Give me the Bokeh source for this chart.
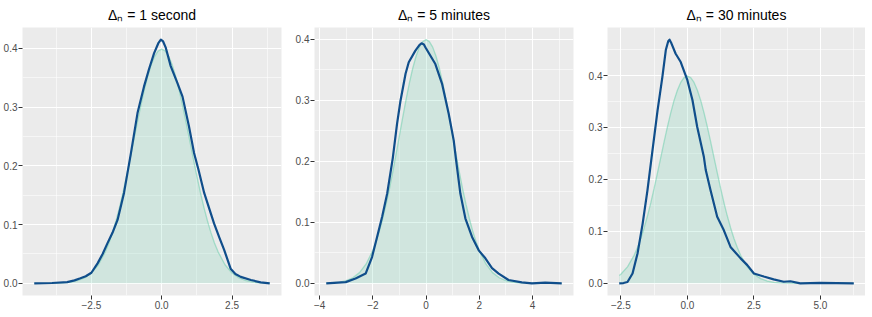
from bokeh.plotting import figure
from bokeh.layouts import row
from bokeh.models import FixedTicker, Range1d, CustomJSTickFormatter
from bokeh.embed import file_html
from bokeh.resources import INLINE

# ---------------- data ----------------
titles = ["Δₙ = 1 second", "Δₙ = 5 minutes", "Δₙ = 30 minutes"]

# standard normal reference density (green area), core part shared by panels
g_core_x = [-2.0, -1.875, -1.75, -1.625, -1.5, -1.375, -1.25, -1.125, -1.0, -0.875,
            -0.75, -0.625, -0.5, -0.375, -0.25, -0.125, 0.0, 0.125, 0.25, 0.375,
            0.5, 0.625, 0.75, 0.875, 1.0, 1.125, 1.25, 1.375, 1.5, 1.625,
            1.75, 1.875, 2.0]
g_core_y = [0.0540, 0.0688, 0.0863, 0.1066, 0.1295, 0.1548, 0.1826, 0.2121, 0.2420, 0.2721,
            0.3011, 0.3282, 0.3521, 0.3718, 0.3867, 0.3958, 0.3989, 0.3958, 0.3867, 0.3718,
            0.3521, 0.3282, 0.3011, 0.2721, 0.2420, 0.2121, 0.1826, 0.1548, 0.1295, 0.1066,
            0.0863, 0.0688, 0.0540]

# panel 1 : 1 second
p1_green_left_x = [-4.53, -4.25, -4.0, -3.75, -3.5, -3.25, -3.0, -2.75, -2.5, -2.25]
p1_green_left_y = [0.0000, 0.0000, 0.0001, 0.0004, 0.0009, 0.0020, 0.0044, 0.0091, 0.0175, 0.0317]
p1_green_right_x = [2.25, 2.5, 2.75, 3.0, 3.25, 3.5, 3.75, 3.84]
p1_green_right_y = [0.0317, 0.0175, 0.0091, 0.0044, 0.0020, 0.0009, 0.0004, 0.0003]
p1_blue_x = [-4.53, -3.9, -3.36, -3.1, -2.89, -2.7, -2.5, -2.28, -2.1, -1.93,
             -1.75, -1.57, -1.34, -1.1, -0.86, -0.63, -0.45, -0.27, -0.12, -0.03,
             0.05, 0.14, 0.32, 0.56, 0.74, 0.97, 1.15, 1.31, 1.51, 1.86,
             2.05, 2.22, 2.45, 2.62, 2.81, 3.17, 3.52, 3.84]
p1_blue_y = [0.0, 0.0005, 0.002, 0.005, 0.0085, 0.012, 0.018, 0.034, 0.05, 0.068,
             0.086, 0.108, 0.154, 0.22, 0.29, 0.335, 0.365, 0.392, 0.409, 0.415,
             0.412, 0.402, 0.37, 0.341, 0.318, 0.267, 0.222, 0.193, 0.154, 0.102,
             0.078, 0.057, 0.025, 0.016, 0.011, 0.0056, 0.0017, 0.0]
p1_xticks = [-2.5, 0.0, 2.5]
p1_xlabels = ["−2.5", "0.0", "2.5"]
p1_xminor = [-3.75, -1.25, 1.25, 3.75]

# panel 2 : 5 minutes
p2_green_left_x = [-3.75, -3.5, -3.25, -3.0, -2.75, -2.5, -2.25]
p2_green_left_y = [0.0004, 0.0009, 0.0020, 0.0044, 0.0091, 0.0175, 0.0317]
p2_green_right_x = [2.25, 2.5, 2.75, 3.0, 3.25, 3.5, 3.75, 4.0, 4.5, 5.1]
p2_green_right_y = [0.0317, 0.0175, 0.0091, 0.0044, 0.0020, 0.0009, 0.0004, 0.0001, 0.0, 0.0]
p2_blue_x = [-3.75, -3.02, -2.65, -2.27, -2.03, -1.84, -1.65, -1.46, -1.25, -1.09,
             -0.96, -0.77, -0.65, -0.4, -0.25, -0.17, -0.08, -0.02, 0.35, 0.6,
             0.85, 1.04, 1.12, 1.29, 1.48, 1.73, 1.98, 2.23, 2.48, 2.73,
             3.1, 3.6, 3.98, 4.48, 5.1]
p2_blue_y = [0.0, 0.002, 0.008, 0.016, 0.043, 0.076, 0.109, 0.147, 0.205, 0.261,
             0.299, 0.343, 0.362, 0.381, 0.39, 0.393, 0.391, 0.386, 0.359, 0.327,
             0.278, 0.234, 0.205, 0.147, 0.106, 0.076, 0.054, 0.041, 0.025, 0.016,
             0.0054, 0.0016, 0.0, 0.001, 0.0]
p2_xticks = [-4, -2, 0, 2, 4]
p2_xlabels = ["−4", "−2", "0", "2", "4"]
p2_xminor = [-3, -1, 1, 3, 5]

# panel 3 : 30 minutes
p3_green_left_x = [-2.56, -2.5, -2.25]
p3_green_left_y = [0.0151, 0.0175, 0.0317]
p3_green_right_x = [2.25, 2.5, 2.75, 3.0, 3.25, 3.5, 3.75, 4.0, 4.5, 6.25]
p3_green_right_y = [0.0317, 0.0175, 0.0091, 0.0044, 0.0020, 0.0009, 0.0004, 0.0001, 0.0, 0.0]
p3_blue_x = [-2.56, -2.4, -2.25, -2.06, -1.87, -1.68, -1.5, -1.35, -1.12, -0.94,
             -0.81, -0.72, -0.67, -0.6, -0.44, -0.25, 0.0, 0.19, 0.37, 0.62,
             0.69, 0.87, 1.12, 1.37, 1.62, 2.0, 2.25, 2.5, 2.87, 3.24,
             3.62, 3.87, 4.24, 4.99, 6.25]
p3_blue_y = [0.0, 0.0005, 0.0025, 0.019, 0.058, 0.115, 0.179, 0.24, 0.333, 0.397,
             0.449, 0.466, 0.469, 0.462, 0.442, 0.426, 0.391, 0.353, 0.301, 0.243,
             0.218, 0.179, 0.128, 0.102, 0.070, 0.048, 0.035, 0.019, 0.013, 0.0077,
             0.003, 0.004, 0.0, 0.001, 0.0]
p3_xticks = [-2.5, 0.0, 2.5, 5.0]
p3_xlabels = ["−2.5", "0.0", "2.5", "5.0"]
p3_xminor = [-1.25, 1.25, 3.75, 6.25]

y_ticks = [0.0, 0.1, 0.2, 0.3, 0.4]
y_labels = ["0.0", "0.1", "0.2", "0.3", "0.4"]
y_minor = [0.05, 0.15, 0.25, 0.35, 0.45]

# ---------------- style ----------------
BG = "#EBEBEB"
FILL = "#66CDAA"
BLUE = "#104E8B"
FONT = "Liberation Sans"

LABEL_CODE = "const i = tv.indexOf(tick); return i >= 0 ? lb[i] : '';"


def panel(title, bx, by, gx, gy, xticks, xlabels, xminor, fw, left, right):
    xs = bx + gx
    xmin, xmax = min(xs), max(xs)
    span = xmax - xmin
    ymax = max(max(by), max(gy))
    p = figure(frame_width=fw, frame_height=268,
               x_range=Range1d(xmin - 0.05 * span, xmax + 0.05 * span),
               y_range=Range1d(-0.05 * ymax, 1.05 * ymax),
               output_backend="svg", toolbar_location=None, title=title,
               min_border_left=left, min_border_right=right,
               min_border_top=24, min_border_bottom=6)
    p.background_fill_color = BG
    p.border_fill_color = "white"
    p.outline_line_color = None

    p.title.text_font = FONT
    p.title.text_font_size = "14px"
    p.title.text_font_style = "normal"
    p.title.text_color = "black"
    p.title.align = "center"
    p.title.standoff = 9

    p.xaxis.ticker = FixedTicker(ticks=xticks, minor_ticks=xminor)
    p.yaxis.ticker = FixedTicker(ticks=y_ticks, minor_ticks=y_minor)
    p.xaxis.formatter = CustomJSTickFormatter(args=dict(tv=xticks, lb=xlabels), code=LABEL_CODE)
    p.yaxis.formatter = CustomJSTickFormatter(args=dict(tv=y_ticks, lb=y_labels), code=LABEL_CODE)
    for ax in (p.xaxis, p.yaxis):
        ax.axis_line_color = None
        ax.major_tick_out = 4
        ax.major_tick_in = 0
        ax.major_tick_line_color = "#333333"
        ax.major_tick_line_width = 1
        ax.minor_tick_line_color = None
        ax.major_label_standoff = 1
        ax.major_label_text_font = FONT
        ax.major_label_text_font_size = "10px"
        ax.major_label_text_color = "#4D4D4D"
    for g in (p.xgrid, p.ygrid):
        g.grid_line_color = "white"
        g.grid_line_width = 1.1
        g.minor_grid_line_color = "white"
        g.minor_grid_line_width = 0.55

    p.varea(x=gx, y1=[0] * len(gx), y2=gy, fill_color=FILL, fill_alpha=0.2)
    p.line(gx, gy, line_color=FILL, line_alpha=0.5, line_width=1.3)
    p.line(bx, by, line_color=BLUE, line_width=2.2, line_join="round")
    return p


p1 = panel(titles[0], p1_blue_x, p1_blue_y,
           p1_green_left_x + g_core_x + p1_green_right_x,
           p1_green_left_y + g_core_y + p1_green_right_y,
           p1_xticks, p1_xlabels, p1_xminor, 259, 18, 11)
p2 = panel(titles[1], p2_blue_x, p2_blue_y,
           p2_green_left_x + g_core_x + p2_green_right_x,
           p2_green_left_y + g_core_y + p2_green_right_y,
           p2_xticks, p2_xlabels, p2_xminor, 259, 19, 12)
p3 = panel(titles[2], p3_blue_x, p3_blue_y,
           p3_green_left_x + g_core_x + p3_green_right_x,
           p3_green_left_y + g_core_y + p3_green_right_y,
           p3_xticks, p3_xlabels, p3_xminor, 258, 19, 0)

layout = row(p1, p2, p3)
open("out.html", "w").write(file_html(layout, INLINE))
